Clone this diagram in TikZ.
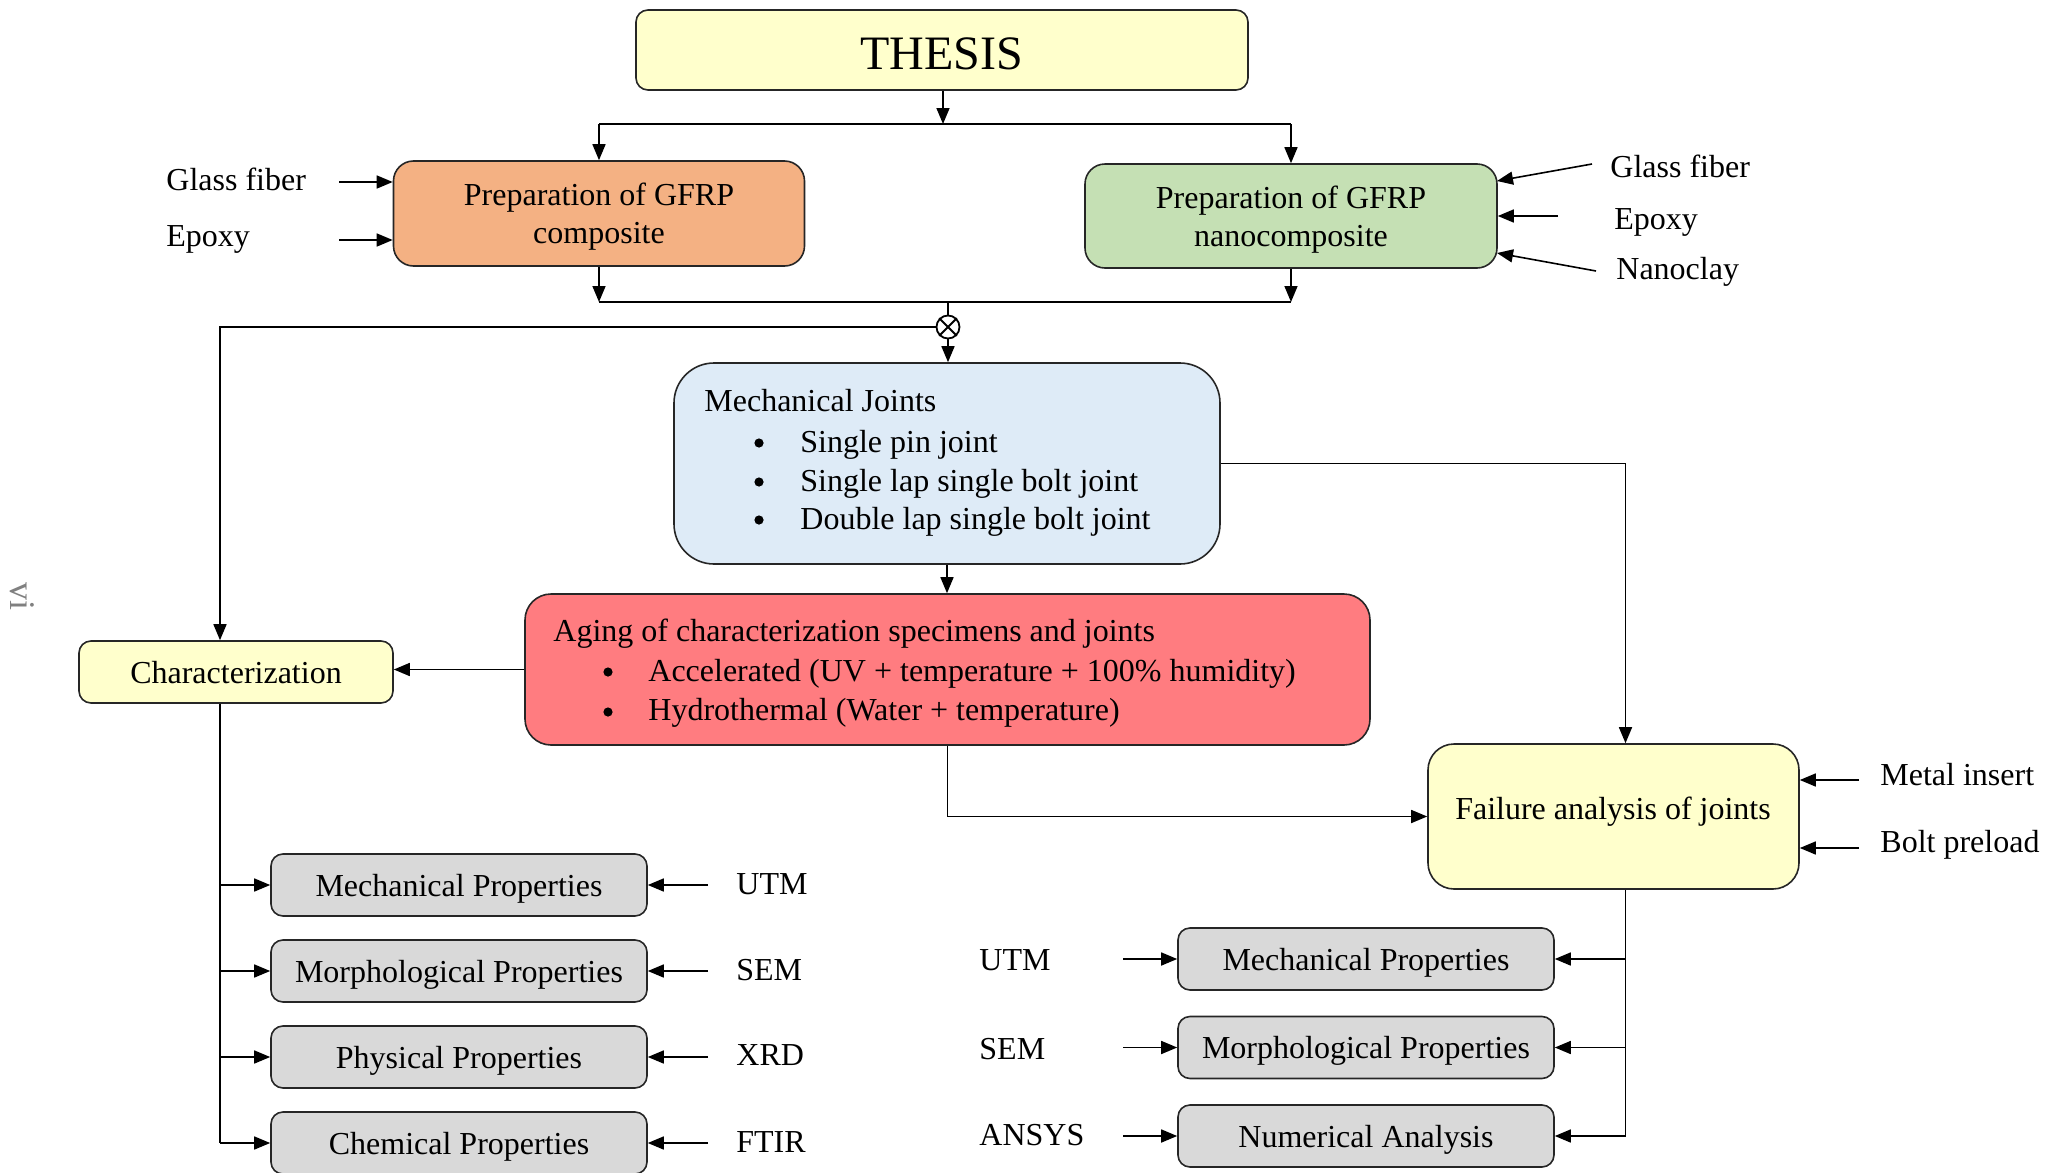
\documentclass[tikz,border=0pt]{standalone}
\usepackage{fontspec}
\setmainfont{Liberation Serif}
\usetikzlibrary{arrows.meta}
\definecolor{cyel}{HTML}{FFFFCC}
\definecolor{corg}{HTML}{F4B183}
\definecolor{cgrn}{HTML}{C5E0B4}
\definecolor{cblu}{HTML}{DEEBF7}
\definecolor{cred}{HTML}{FF7C80}
\definecolor{cgry}{HTML}{D9D9D9}
\definecolor{cedge}{HTML}{262626}
\tikzset{
  bx/.style={draw=cedge, line width=0.8pt, rectangle, inner sep=0pt, text depth=0pt},
  gbox/.style={bx, fill=cgry, rounded corners=6pt, minimum width=188pt, minimum height=31pt, font=\fontsize{16}{19}\selectfont},
  lbl/.style={font=\fontsize{16}{19}\selectfont, inner sep=0pt, anchor=west, yshift=-2pt},
  olbl/.style={font=\fontsize{16}{19}\selectfont, inner sep=0pt, anchor=west},
  bul/.style={circle, fill=black, inner sep=0pt, minimum size=4.6pt},
  arr/.style={-{Triangle[length=8pt,width=6.5pt]}, line width=0.8pt, draw=black},
  ln/.style={line width=0.8pt, draw=black},
}
\begin{document}
\begin{tikzpicture}[x=0.5pt,y=-0.5pt]
\useasboundingbox (0,0) rectangle (2053,1173);
% main boxes
\node[bx, fill=cyel, rounded corners=6pt, minimum width=306pt, minimum height=40pt, text height=19pt, font=\fontsize{24}{28}\selectfont] (thesis) at (942,50) {THESIS};
\node[bx, fill=corg, rounded corners=10pt, minimum width=205.5pt, minimum height=52.5pt, align=center, font=\fontsize{16}{19}\selectfont] (pl) at (599,213.5) {Preparation of GFRP\\composite};
\node[bx, fill=cgrn, rounded corners=10pt, minimum width=206pt, minimum height=52pt, align=center, font=\fontsize{16}{19}\selectfont] (pr) at (1291,216) {Preparation of GFRP\\nanocomposite};
\node[bx, fill=cblu, rounded corners=20pt, minimum width=273pt, minimum height=100.5pt] (mj) at (947,463.5) {};
\node[bx, fill=cred, rounded corners=13pt, minimum width=422.5pt, minimum height=75.5pt] (ag) at (947.5,669.5) {};
\node[bx, fill=cyel, rounded corners=6pt, minimum width=157pt, minimum height=31pt, font=\fontsize{16}{19}\selectfont] (ch) at (236,672) {Characterization};
\node[bx, fill=cyel, rounded corners=13pt, minimum width=185.5pt, minimum height=72.5pt] (fa) at (1613.5,816.5) {};
\node[font=\fontsize{16}{19}\selectfont, inner sep=0pt] (fat) at (1613,812) {Failure analysis of joints};
% joint text
\node[lbl] (mjt) at (704,397) {Mechanical Joints};
\node[bul] (mjb1) at (759,443) {};
\node[bul] (mjb2) at (759,482) {};
\node[bul] (mjb3) at (759,520) {};
\node[lbl] (mj1) at (800,441) {Single pin joint};
\node[lbl] (mj2) at (800,480) {Single lap single bolt joint};
\node[lbl] (mj3) at (800,518) {Double lap single bolt joint};
% aging text
\node[lbl] (agt) at (553,630) {Aging of characterization specimens and joints};
\node[bul] (agb1) at (608,672) {};
\node[bul] (agb2) at (608,712) {};
\node[lbl] (ag1) at (648,670) {Accelerated (UV + temperature + 100\% humidity)};
\node[lbl] (ag2) at (648,709) {Hydrothermal (Water + temperature)};
% input labels
\node[olbl] (lgf) at (166,179) {Glass fiber};
\node[olbl] (lep) at (166,239) {Epoxy};
\coordinate (lgfa) at (339,182);
\coordinate (lepa) at (339,240);
\node[olbl] (rgf) at (1610,166) {Glass fiber};
\node[olbl] (rep) at (1614,222) {Epoxy};
\node[olbl] (rnc) at (1616,272) {Nanoclay};
\coordinate (rgfa) at (1592,164);
\coordinate (rgfb) at (1497,181);
\coordinate (repa) at (1558,216);
\coordinate (rnca) at (1596,271);
\coordinate (rncb) at (1497,253);
\node[olbl] (mi) at (1880,775) {Metal insert};
\node[olbl] (bp) at (1880,845) {Bolt preload};
\coordinate (mia) at (1859,780);
\coordinate (bpa) at (1859,848);
% left property boxes
\node[gbox] (lm1) at (459,885) {Mechanical Properties};
\node[gbox] (lm2) at (459,971) {Morphological Properties};
\node[gbox] (lm3) at (459,1057) {Physical Properties};
\node[gbox] (lm4) at (459,1143) {Chemical Properties};
\node[olbl] (lu) at (736,884) {UTM};
\node[olbl] (ls) at (736,970) {SEM};
\node[olbl] (lx) at (736,1055) {XRD};
\node[olbl] (lf) at (736,1142) {FTIR};
\coordinate (lsrc) at (708,0);
% right property boxes
\node[gbox] (rm1) at (1366,959) {Mechanical Properties};
\node[gbox] (rm2) at (1366,1047.5) {Morphological Properties};
\node[gbox] (rm3) at (1366,1136) {Numerical Analysis};
\node[olbl] (ru) at (979,960) {UTM};
\node[olbl] (rs) at (979,1049) {SEM};
\node[olbl] (ra) at (979,1135) {ANSYS};
\coordinate (rsrc) at (1123,0);
% page number
\node[font=\fontsize{18}{20}\selectfont, text=black!50, rotate=-90, inner sep=0pt] (pg) at (22,596) {vi};
% connectors top
\coordinate (j1) at (943,124);
\draw[arr] (thesis.south -| j1) -- (j1);
\draw[ln] (j1 -| pl.north) -- (j1 -| pr.north);
\draw[arr] (j1 -| pl.north) -- (pl.north);
\draw[arr] (j1 -| pr.north) -- (pr.north);
\draw[arr] (lgfa) -- (lgfa -| pl.west);
\draw[arr] (lepa) -- (lepa -| pl.west);
\draw[arr] (rgfa) -- (rgfb);
\draw[arr] (repa) -- (repa -| pr.east);
\draw[arr] (rnca) -- (rncb);
\coordinate (j2) at (948,302);
\draw[arr] (pl.south) -- (pl.south |- j2);
\draw[arr] (pr.south) -- (pr.south |- j2);
\draw[ln] (pl.south |- j2) -- (pr.south |- j2);
\node[draw=black, line width=0.9pt, circle, minimum size=11.5pt, inner sep=0pt] (ot) at (948,327) {};
\draw[line width=0.9pt] (ot.45) -- (ot.225) (ot.135) -- (ot.315);
\draw[ln] (j2) -- (ot.north);
\draw[arr] (ot.south) -- (ot.south |- mj.north);
\draw[arr] (ot.west) -| ([xshift=-8pt]ch.north);
% middle
\draw[arr] (mj.east) -| ([xshift=6pt]fa.north);
\draw[arr] (mj.south) -- (mj.south |- ag.north);
\draw[arr] (ag.west) -- (ag.west -| ch.east);
\draw[arr] (ag.south) |- (fa.west);
\draw[arr] (mia) -- (mia -| fa.east);
\draw[arr] (bpa) -- (bpa -| fa.east);
% left trunk
\coordinate (ct) at ([xshift=-8pt]ch.south);
\draw[ln] (ct) -- (ct |- lm4.west);
\foreach \b in {lm1,lm2,lm3,lm4}{
  \draw[arr] (ct |- \b.west) -- (\b.west);
  \draw[arr] (lsrc |- \b.east) -- (\b.east);
}
% right trunk
\coordinate (ft) at ([xshift=6pt]fa.south);
\draw[ln] (ft) -- (ft |- rm3.east);
\foreach \b in {rm1,rm2,rm3}{
  \draw[arr] (ft |- \b.east) -- (\b.east);
  \draw[arr] (rsrc |- \b.west) -- (\b.west);
}
\end{tikzpicture}
\end{document}
